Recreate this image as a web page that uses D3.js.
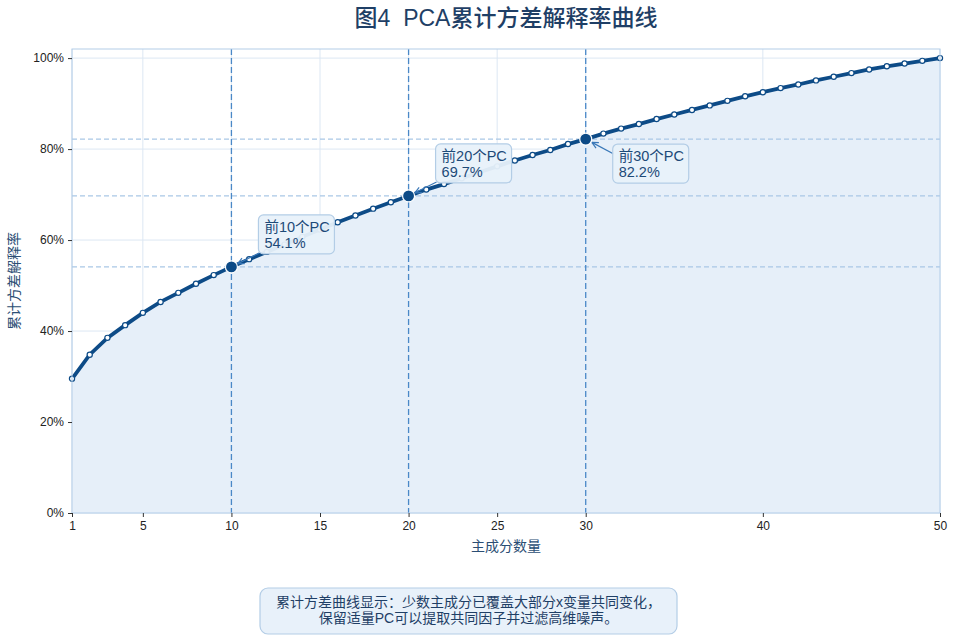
<!DOCTYPE html>
<html>
<head>
<meta charset="utf-8">
<script src="https://cdn.jsdelivr.net/npm/d3@7"></script>
<style>
  body { margin: 0; background: #fff; }
  text { font-family: "Liberation Sans", "Noto Sans CJK SC", sans-serif; }
</style>
</head>
<body>
<div id="chart"></div>
<script>
const width = 957;
const height = 637;

// cumulative explained variance per number of components
const components = d3.range(1, 51);
const cumVar = [
  0.295, 0.348, 0.385, 0.413, 0.440, 0.464, 0.484, 0.504, 0.523, 0.541,
  0.558, 0.574, 0.590, 0.607, 0.623, 0.639, 0.654, 0.669, 0.683, 0.697,
  0.711, 0.723, 0.736, 0.749, 0.762, 0.775, 0.787, 0.798, 0.811, 0.822,
  0.834, 0.845, 0.855, 0.866, 0.876, 0.886, 0.896, 0.906, 0.916, 0.925,
  0.934, 0.942, 0.951, 0.959, 0.967, 0.975, 0.982, 0.988, 0.994, 1.000
];
const xTicks = [1, 5, 10, 15, 20, 25, 30, 40, 50];
const yTicks = [0, 0.2, 0.4, 0.6, 0.8, 1.0];
const marked = [10, 20, 30];
const noteLines = [
  "累计方差曲线显示：少数主成分已覆盖大部分x变量共同变化，",
  "保留适量PC可以提取共同因子并过滤高维噪声。"
];

const margin = { top: 49, right: 17, bottom: 124, left: 72 };
const innerW = width - margin.left - margin.right;
const innerH = height - margin.top - margin.bottom;

const svg = d3.select("#chart")
  .append("svg")
  .attr("width", width)
  .attr("height", height);

const x = d3.scaleLinear().domain([1, 50]).range([0, innerW]);
const y = d3.scaleLinear().domain([0, 1.02]).range([innerH, 0]);

const g = svg.append("g").attr("transform", `translate(${margin.left},${margin.top})`);

const data = components.map((c, i) => ({ c: c, v: cumVar[i] }));

// grid
g.append("g")
  .selectAll("line")
  .data(xTicks)
  .enter().append("line")
  .attr("x1", d => x(d)).attr("x2", d => x(d))
  .attr("y1", 0).attr("y2", innerH)
  .attr("stroke", "#dce7f3").attr("stroke-width", 1);
g.append("g")
  .selectAll("line")
  .data(yTicks)
  .enter().append("line")
  .attr("x1", 0).attr("x2", innerW)
  .attr("y1", d => y(d)).attr("y2", d => y(d))
  .attr("stroke", "#dce7f3").attr("stroke-width", 1);

// area under curve
g.append("path")
  .datum(data)
  .attr("fill", "#e6eff9")
  .attr("d", d3.area().x(d => x(d.c)).y0(y(0)).y1(d => y(d.v)));

// reference lines
const markData = data.filter(d => marked.includes(d.c));
g.append("g")
  .selectAll("line")
  .data(markData)
  .enter().append("line")
  .attr("x1", 0).attr("x2", innerW)
  .attr("y1", d => y(d.v)).attr("y2", d => y(d.v))
  .attr("stroke", "#a9c7e6").attr("stroke-width", 1.2)
  .attr("stroke-dasharray", "5,3");
g.append("g")
  .selectAll("line")
  .data(markData)
  .enter().append("line")
  .attr("x1", d => x(d.c)).attr("x2", d => x(d.c))
  .attr("y1", 0).attr("y2", innerH)
  .attr("stroke", "#4a88c7").attr("stroke-width", 1.3)
  .attr("stroke-dasharray", "6,3");

// curve
g.append("path")
  .datum(data)
  .attr("fill", "none")
  .attr("stroke", "#0d4b87")
  .attr("stroke-width", 3.8)
  .attr("d", d3.line().x(d => x(d.c)).y(d => y(d.v)));

g.append("g")
  .selectAll("circle")
  .data(data)
  .enter().append("circle")
  .attr("cx", d => x(d.c)).attr("cy", d => y(d.v))
  .attr("r", 2.6)
  .attr("fill", "#fff")
  .attr("stroke", "#0d4b87").attr("stroke-width", 1.2);

// plot frame
g.append("rect")
  .attr("width", innerW).attr("height", innerH)
  .attr("fill", "none").attr("stroke", "#b3cde8").attr("stroke-width", 1);

// annotations
const annoOffsets = { 10: [27, -52], 20: [27, -52], 30: [27, 5] };
const annoW = 76, annoH = 39;
const anno = g.append("g");
markData.forEach(d => {
  const px = x(d.c), py = y(d.v);
  const bx = px + annoOffsets[d.c][0], by = py + annoOffsets[d.c][1];
  // arrow from box corner to the point
  const sx = bx + 1, sy = annoOffsets[d.c][1] < 0 ? by + annoH - 1 : by + 10;
  const ang = Math.atan2(py - sy, px - sx);
  const ex = px - Math.cos(ang) * 7, ey = py - Math.sin(ang) * 7;
  anno.append("line")
    .attr("x1", sx).attr("y1", sy).attr("x2", ex).attr("y2", ey)
    .attr("stroke", "#3a78b8").attr("stroke-width", 1.2);
  [ang + Math.PI - 0.45, ang + Math.PI + 0.45].forEach(a => {
    anno.append("line")
      .attr("x1", ex).attr("y1", ey)
      .attr("x2", ex + Math.cos(a) * 7).attr("y2", ey + Math.sin(a) * 7)
      .attr("stroke", "#3a78b8").attr("stroke-width", 1.2);
  });
  anno.append("rect")
    .attr("x", bx).attr("y", by).attr("width", annoW).attr("height", annoH)
    .attr("rx", 5)
    .attr("fill", "#e8f1fa").attr("fill-opacity", 0.95)
    .attr("stroke", "#b3cde6").attr("stroke-width", 1.2);
  anno.append("text")
    .attr("x", bx + 6).attr("y", by + 17)
    .attr("font-size", 14.5).attr("fill", "#1d4a78")
    .text(`前${d.c}个PC`);
  anno.append("text")
    .attr("x", bx + 6).attr("y", by + 33)
    .attr("font-size", 14.5).attr("fill", "#1d4a78")
    .text(`${(d.v * 100).toFixed(1)}%`);
});

// highlight points
g.append("g")
  .selectAll("circle")
  .data(markData)
  .enter().append("circle")
  .attr("cx", d => x(d.c)).attr("cy", d => y(d.v))
  .attr("r", 6)
  .attr("fill", "#0d4b87")
  .attr("stroke", "#fff").attr("stroke-width", 1.2);

// axes
const xAxis = g.append("g")
  .attr("transform", `translate(0,${innerH})`)
  .call(d3.axisBottom(x).tickValues(xTicks).tickSize(4).tickPadding(4));
const yAxis = g.append("g")
  .call(d3.axisLeft(y).tickValues(yTicks).tickFormat(d3.format(".0%")).tickSize(4).tickPadding(4));
[xAxis, yAxis].forEach(a => {
  a.select(".domain").remove();
  a.selectAll(".tick line").attr("stroke", "#333");
  a.selectAll(".tick text")
    .attr("font-size", 12).attr("fill", "#222")
    .attr("font-family", "'Liberation Sans', 'Noto Sans CJK SC', sans-serif");
});

// labels
svg.append("text")
  .attr("x", margin.left + innerW / 2).attr("y", 26)
  .attr("text-anchor", "middle")
  .attr("font-size", 23).attr("font-weight", 500).attr("fill", "#1f3f66")
  .style("white-space", "pre")
  .text("图4  PCA累计方差解释率曲线");

svg.append("text")
  .attr("x", margin.left + innerW / 2).attr("y", 551)
  .attr("text-anchor", "middle")
  .attr("font-size", 14).attr("fill", "#2b4e74")
  .text("主成分数量");

svg.append("text")
  .attr("transform", `translate(19,${margin.top + innerH / 2}) rotate(-90)`)
  .attr("text-anchor", "middle")
  .attr("font-size", 14).attr("fill", "#2b4e74")
  .text("累计方差解释率");

// note box
const note = svg.append("g");
note.append("rect")
  .attr("x", 260).attr("y", 588).attr("width", 417).attr("height", 46)
  .attr("rx", 8)
  .attr("fill", "#e8f1fa")
  .attr("stroke", "#b3cde6").attr("stroke-width", 1.2);
note.selectAll("text")
  .data(noteLines)
  .enter().append("text")
  .attr("x", 468.5).attr("y", (d, i) => 607 + i * 16)
  .attr("text-anchor", "middle")
  .attr("font-size", 14).attr("fill", "#1f3f66")
  .text(d => d);
</script>
</body>
</html>
